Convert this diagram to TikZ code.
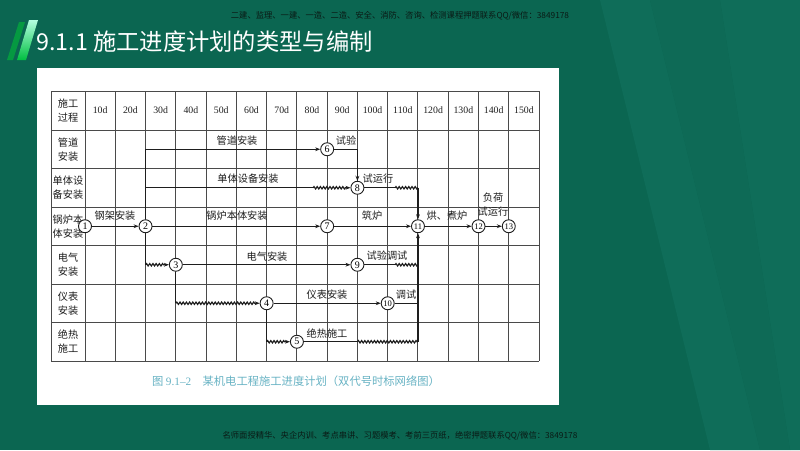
\documentclass[tikz,border=0pt]{standalone}
\usepackage{fontspec}
\setmainfont{Liberation Serif}
\newfontfamily\cjk{Noto Sans CJK SC}
\usetikzlibrary{arrows.meta,decorations.pathmorphing,calc}
\definecolor{bgg}{HTML}{0B6651}
\definecolor{bgl}{HTML}{0F6D59}
\definecolor{lc}{HTML}{1E1E1E}
\definecolor{gc}{HTML}{4A4A4A}
\definecolor{capc}{HTML}{68B3C4}
\definecolor{wm}{HTML}{0A1A15}
\tikzset{
  gridline/.style={draw=gc,line width=1pt},
  conn/.style={draw=lc,line width=1.15pt},
  arr/.style={conn,-{Stealth[length=5pt,width=3.8pt]}},
  wavy/.style={conn,decorate,decoration={snake,amplitude=1.2pt,segment length=3.2pt}},
  wavyarr/.style={conn,-{Stealth[length=5pt,width=3.8pt]},decorate,decoration={snake,amplitude=1.2pt,segment length=3.2pt,post length=5pt}},
  ev/.style={circle,draw=lc,line width=0.9pt,fill=white,minimum size=13pt,inner sep=0pt,font=\fontsize{10}{10}\selectfont},
  evt/.style={ev,font=\fontsize{8.5}{8.5}\selectfont},
  lb/.style={font=\cjk\fontsize{10.2}{12}\selectfont,inner sep=0pt,text=lc},
  rowlab/.style={font=\cjk\fontsize{10.2}{14}\selectfont,align=center,inner sep=0pt,text=lc},
  hd/.style={font=\fontsize{9.8}{10}\selectfont,inner sep=0pt,text=lc},
}
\begin{document}
\begin{tikzpicture}[x=1pt,y=-1pt]
\useasboundingbox (0,0) rectangle (800,450);
% background
\fill[bgg] (0,0) rectangle (800,450);
\fill[bgl] (600,0) -- (650,0) -- (760,450) -- (710,450) -- cycle;
\fill[bgl] (720,0) -- (800,0) -- (800,450) -- (790,450) -- cycle;
\fill[bgl!60!bgg] (650,0) -- (720,0) -- (790,450) -- (760,450) -- cycle;
% slanted bars
\fill[green!60!teal,opacity=0.5] (19,22) -- (25,22) -- (13,60) -- (7,60) -- cycle;
\shade[top color=green!40!cyan!30!white,bottom color=green!50!teal] (29,20) -- (38,20) -- (26,60) -- (17,60) -- cycle;
% title
\node[anchor=west,text=white,font=\cjk\fontsize{23.3}{26}\selectfont,inner sep=0pt] (title) at (36,42) {9.1.1 施工进度计划的类型与编制};
% watermark texts
\node[text=wm,font=\cjk\fontsize{8.3}{9}\selectfont,inner sep=0pt] (wmtop) at (400,16) {二建、监理、一建、一造、二造、安全、消防、咨询、检测课程押题联系QQ/微信：3849178};
\node[text=wm,font=\cjk\fontsize{8.3}{9}\selectfont,inner sep=0pt] (wmbot) at (400,436) {名师面授精华、央企内训、考点串讲、习题模考、考前三页纸，绝密押题联系QQ/微信：3849178};
% white panel
\fill[white] (37,68) rectangle (559,405);
% grid
\foreach \yy in {91,130,168.5,207,245.5,284,322.5,361} \draw[gridline] (51,\yy) -- (539.05,\yy);
\draw[gridline] (51,91) -- (51,361);
\draw[gridline] (85,91) -- (85,361);
\foreach \i in {1,...,15} \draw[gridline] ({85+30.27*\i},91) -- ({85+30.27*\i},361);
% header
\node[rowlab] (h0) at (68,110.5) {施工\\过程};
\foreach \i in {1,...,15} \node[hd] (h\i) at ({85+30.27*(\i-0.5)},110.5) {\i0d};
\node[rowlab] (rl1) at (68,149.25) {管道\\安装};
\node[rowlab] (rl2) at (68,187.75) {单体设\\备安装};
\node[rowlab] (rl3) at (68,226.25) {锅炉本\\体安装};
\node[rowlab] (rl4) at (68,264.75) {电气\\安装};
\node[rowlab] (rl5) at (68,303.25) {仪表\\安装};
\node[rowlab] (rl6) at (68,341.75) {绝热\\施工};
% coordinates
\coordinate (c20r2) at (145.54,187.75);
\coordinate (c75r2) at (313,187.75);
\coordinate (c20r4) at (145.54,264.75);
\coordinate (c30r5) at (175.81,303.25);
\coordinate (c60r6) at (266.62,341.75);
\coordinate (c90r6) at (357.43,341.75);
\coordinate (c110r6) at (417.97,341.75);
\coordinate (c110r5) at (417.97,303.25);
\coordinate (c102r4) at (395,264.75);
\coordinate (c110r4) at (417.97,264.75);
\coordinate (c102r2) at (395,187.75);
\coordinate (c110r2) at (417.97,187.75);
% events
\node[ev] (n1) at (85,226.25) {1};
\node[ev] (n2) at (145.54,226.25) {2};
\node[ev] (n3) at (175.81,264.75) {3};
\node[ev] (n4) at (266.62,303.25) {4};
\node[ev] (n5) at (296.89,341.75) {5};
\node[ev] (n6) at (327.16,149.25) {6};
\node[ev] (n7) at (327.16,226.25) {7};
\node[ev] (n8) at (357.43,187.75) {8};
\node[ev] (n9) at (357.43,264.75) {9};
\node[evt] (n10) at (387.7,303.25) {10};
\node[evt] (n11) at (417.97,226.25) {11};
\node[evt] (n12) at (478.51,226.25) {12};
\node[evt] (n13) at (508.78,226.25) {13};
% connectors
\draw[arr] (n1) -- (n2);
\draw[arr] (n2) -- (n7);
\draw[arr] (n2) |- (n6);
\draw[conn] (c20r2) -- (c75r2);
\draw[wavyarr] (c75r2) -- (n8);
\draw[conn] (n2) -- (c20r4);
\draw[wavyarr] (c20r4) -- (n3);
\draw[arr] (n3) -- (n9);
\draw[conn] (n3) -- (c30r5);
\draw[wavyarr] (c30r5) -- (n4);
\draw[arr] (n4) -- (n10);
\draw[conn] (n4) -- (c60r6);
\draw[wavyarr] (c60r6) -- (n5);
\draw[conn] (n5) -- (c90r6);
\draw[wavy] (c90r6) -- (c110r6);
\draw[arr] (c110r6) -- (n11);
\draw[conn] (n10) -- (c110r5);
\draw[conn] (n9) -- (c102r4);
\draw[wavy] (c102r4) -- (c110r4);
\draw[arr] (n6) -| (n8);
\draw[conn] (n8) -- (c102r2);
\draw[wavy] (c102r2) -- (c110r2);
\draw[arr] (c110r2) -- (n11);
\draw[arr] (n7) -- (n11);
\draw[arr] (n11) -- (n12);
\draw[arr] (n12) -- (n13);
% labels
\node[lb] (l12) at (115,216) {钢架安装};
\node[lb] (l27) at (237,216) {锅炉本体安装};
\node[lb] (l711) at (372,216) {筑炉};
\node[lb] (l1112) at (447,216) {烘、煮炉};
\node[lb] (l1213a) at (493,197.5) {负荷};
\node[lb] (l1213b) at (493,212) {试运行};
\node[lb] (l26) at (237,141) {管道安装};
\node[lb] (l68) at (346,141) {试验};
\node[lb] (l28) at (248,179) {单体设备安装};
\node[lb] (l811) at (378,178.5) {试运行};
\node[lb] (l39) at (267,257) {电气安装};
\node[lb] (l911) at (387,255.5) {试验调试};
\node[lb] (l410) at (327,295) {仪表安装};
\node[lb] (l1011) at (406,295) {调试};
\node[lb] (l5) at (327,333.5) {绝热施工};
% caption
\node[text=capc,font=\cjk\fontsize{11.3}{13}\selectfont,inner sep=0pt] (cap) at (296,381) {图 {\rmfamily 9.1–2}\quad 某机电工程施工进度计划（双代号时标网络图）};
\end{tikzpicture}
\end{document}
